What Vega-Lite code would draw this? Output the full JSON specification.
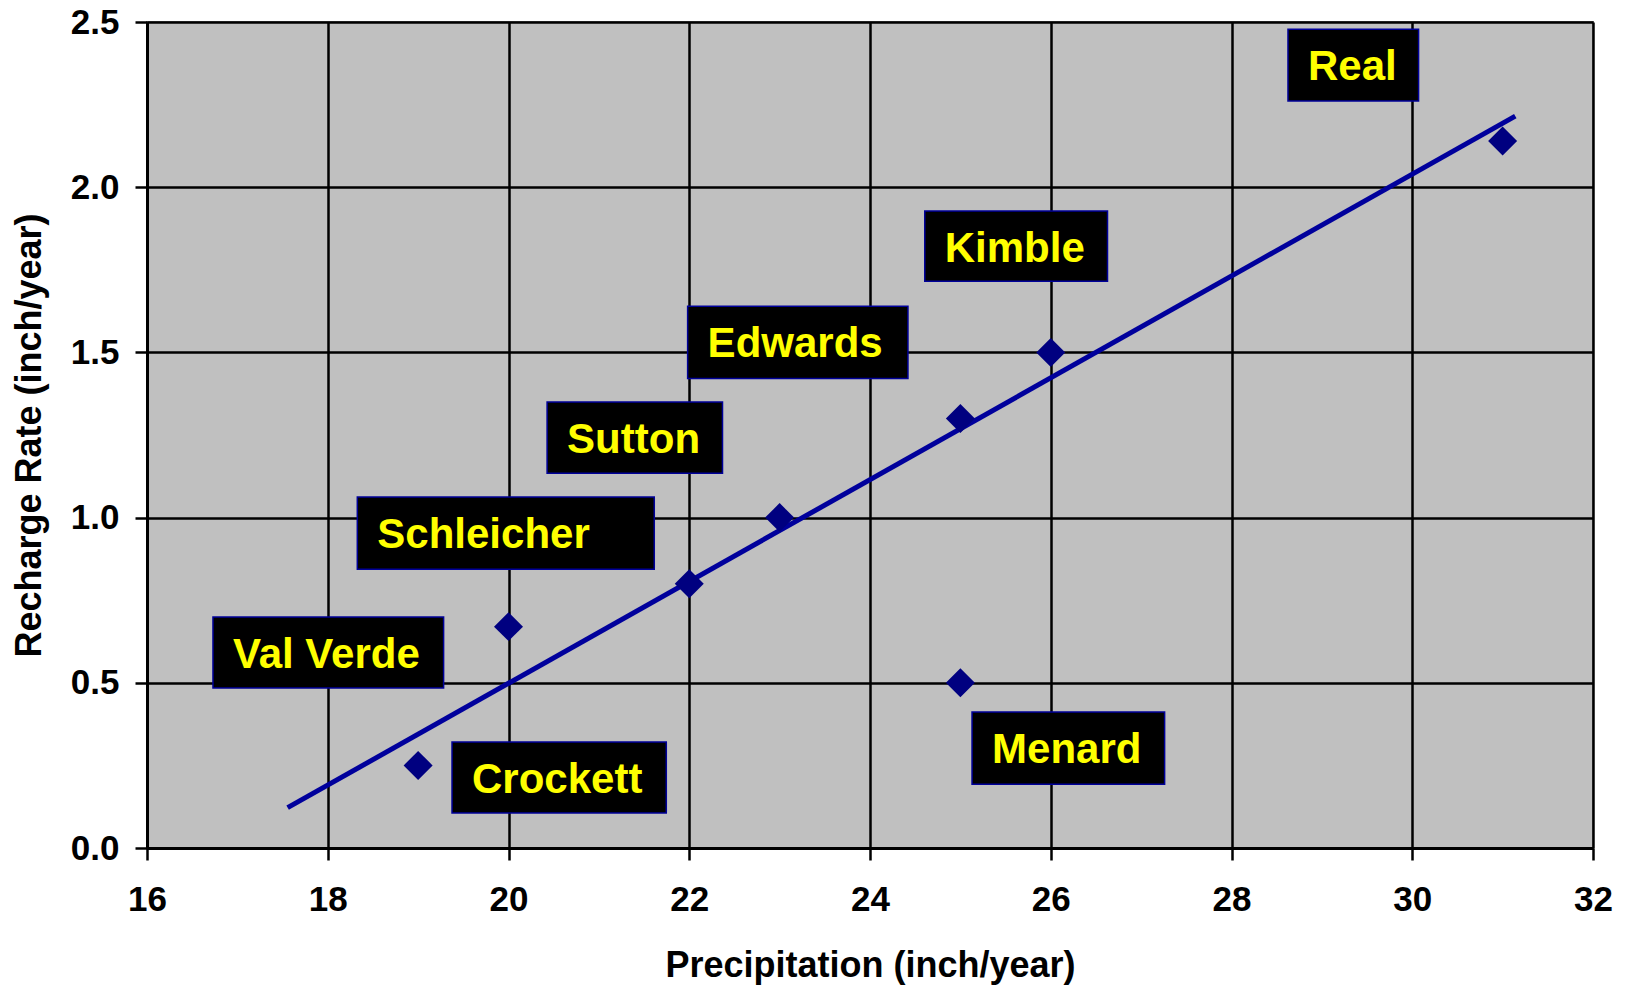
{
  "$schema": "https://vega.github.io/schema/vega-lite/v6.json",
  "width": 1446,
  "height": 826,
  "autosize": "none",
  "padding": {"left": 147, "top": 22, "right": 34, "bottom": 138},
  "background": "white",
  "datasets": {
    "points": [
      {"precip": 19, "recharge": 0.25},
      {"precip": 20, "recharge": 0.67},
      {"precip": 22, "recharge": 0.8},
      {"precip": 23, "recharge": 1.0},
      {"precip": 25, "recharge": 1.3},
      {"precip": 25, "recharge": 0.5},
      {"precip": 26, "recharge": 1.5},
      {"precip": 31, "recharge": 2.14}
    ],
    "trend": [
      {"precip": 17.556, "recharge": 0.122},
      {"precip": 31.14, "recharge": 2.215}
    ],
    "labels": [
      {"county": "Real", "x1": 28.625, "x2": 30.07, "y1": 2.478, "y2": 2.261},
      {"county": "Kimble", "x1": 24.606, "x2": 26.628, "y1": 1.928, "y2": 1.715},
      {"county": "Edwards", "x1": 21.982, "x2": 24.42, "y1": 1.64, "y2": 1.421},
      {"county": "Sutton", "x1": 20.427, "x2": 22.368, "y1": 1.35, "y2": 1.134},
      {"county": "Schleicher", "x1": 18.327, "x2": 21.613, "y1": 1.062, "y2": 0.8435},
      {"county": "Val Verde", "x1": 16.73, "x2": 19.282, "y1": 0.699, "y2": 0.484},
      {"county": "Crockett", "x1": 19.375, "x2": 21.746, "y1": 0.321, "y2": 0.106},
      {"county": "Menard", "x1": 25.129, "x2": 27.26, "y1": 0.412, "y2": 0.193}
    ]
  },
  "config": {
    "view": {"fill": "#C0C0C0", "stroke": "#808080", "strokeWidth": 2},
    "font": "Liberation Sans",
    "axis": {
      "labelFont": "Liberation Sans",
      "labelFontWeight": "bold",
      "labelFontSize": 35,
      "labelColor": "black",
      "labelFlush": false,
      "labelOverlap": false,
      "titleFont": "Liberation Sans",
      "titleFontWeight": "bold",
      "titleFontSize": 36,
      "titleColor": "black",
      "grid": true,
      "gridColor": "black",
      "gridWidth": 2.5,
      "gridOpacity": 1,
      "domainColor": "black",
      "domainWidth": 3,
      "tickColor": "black",
      "tickWidth": 2.5,
      "tickSize": 12
    },
    "axisX": {"labelPadding": 22, "titlePadding": 31},
    "axisY": {"labelPadding": 16, "titlePadding": 22}
  },
  "layer": [
    {
      "data": {"name": "labels"},
      "mark": {"type": "rect", "fill": "black", "stroke": "#000099", "strokeWidth": 1.5},
      "encoding": {
        "x": {"field": "x1", "type": "quantitative", "title": "Precipitation (inch/year)", "scale": {"domain": [16, 32], "nice": false, "zero": false}, "axis": {"values": [16, 18, 20, 22, 24, 26, 28, 30, 32], "format": "d"}},
        "x2": {"field": "x2"},
        "y": {"field": "y1", "type": "quantitative", "title": "Recharge Rate (inch/year)", "scale": {"domain": [0, 2.5], "nice": false}, "axis": {"values": [0, 0.5, 1, 1.5, 2, 2.5], "format": ".1f"}},
        "y2": {"field": "y2"}
      }
    },
    {
      "data": {"name": "trend"},
      "mark": {"type": "line", "color": "#00009C", "strokeWidth": 5, "clip": true},
      "encoding": {
        "x": {"field": "precip", "type": "quantitative", "title": "Precipitation (inch/year)"},
        "y": {"field": "recharge", "type": "quantitative", "title": "Recharge Rate (inch/year)"}
      }
    },
    {
      "data": {"name": "points"},
      "mark": {"type": "point", "shape": "diamond", "filled": true, "color": "#000080", "size": 840, "opacity": 1},
      "encoding": {
        "x": {"field": "precip", "type": "quantitative", "title": "Precipitation (inch/year)"},
        "y": {"field": "recharge", "type": "quantitative", "title": "Recharge Rate (inch/year)"}
      }
    },
    {
      "data": {"name": "labels"},
      "mark": {"type": "text", "color": "#FFFF00", "font": "Liberation Sans", "fontWeight": "bold", "fontSize": 42, "align": "left", "baseline": "middle", "dx": 20, "dy": 38},
      "encoding": {
        "x": {"field": "x1", "type": "quantitative", "title": "Precipitation (inch/year)"},
        "y": {"field": "y1", "type": "quantitative", "title": "Recharge Rate (inch/year)"},
        "text": {"field": "county"}
      }
    }
  ]
}
